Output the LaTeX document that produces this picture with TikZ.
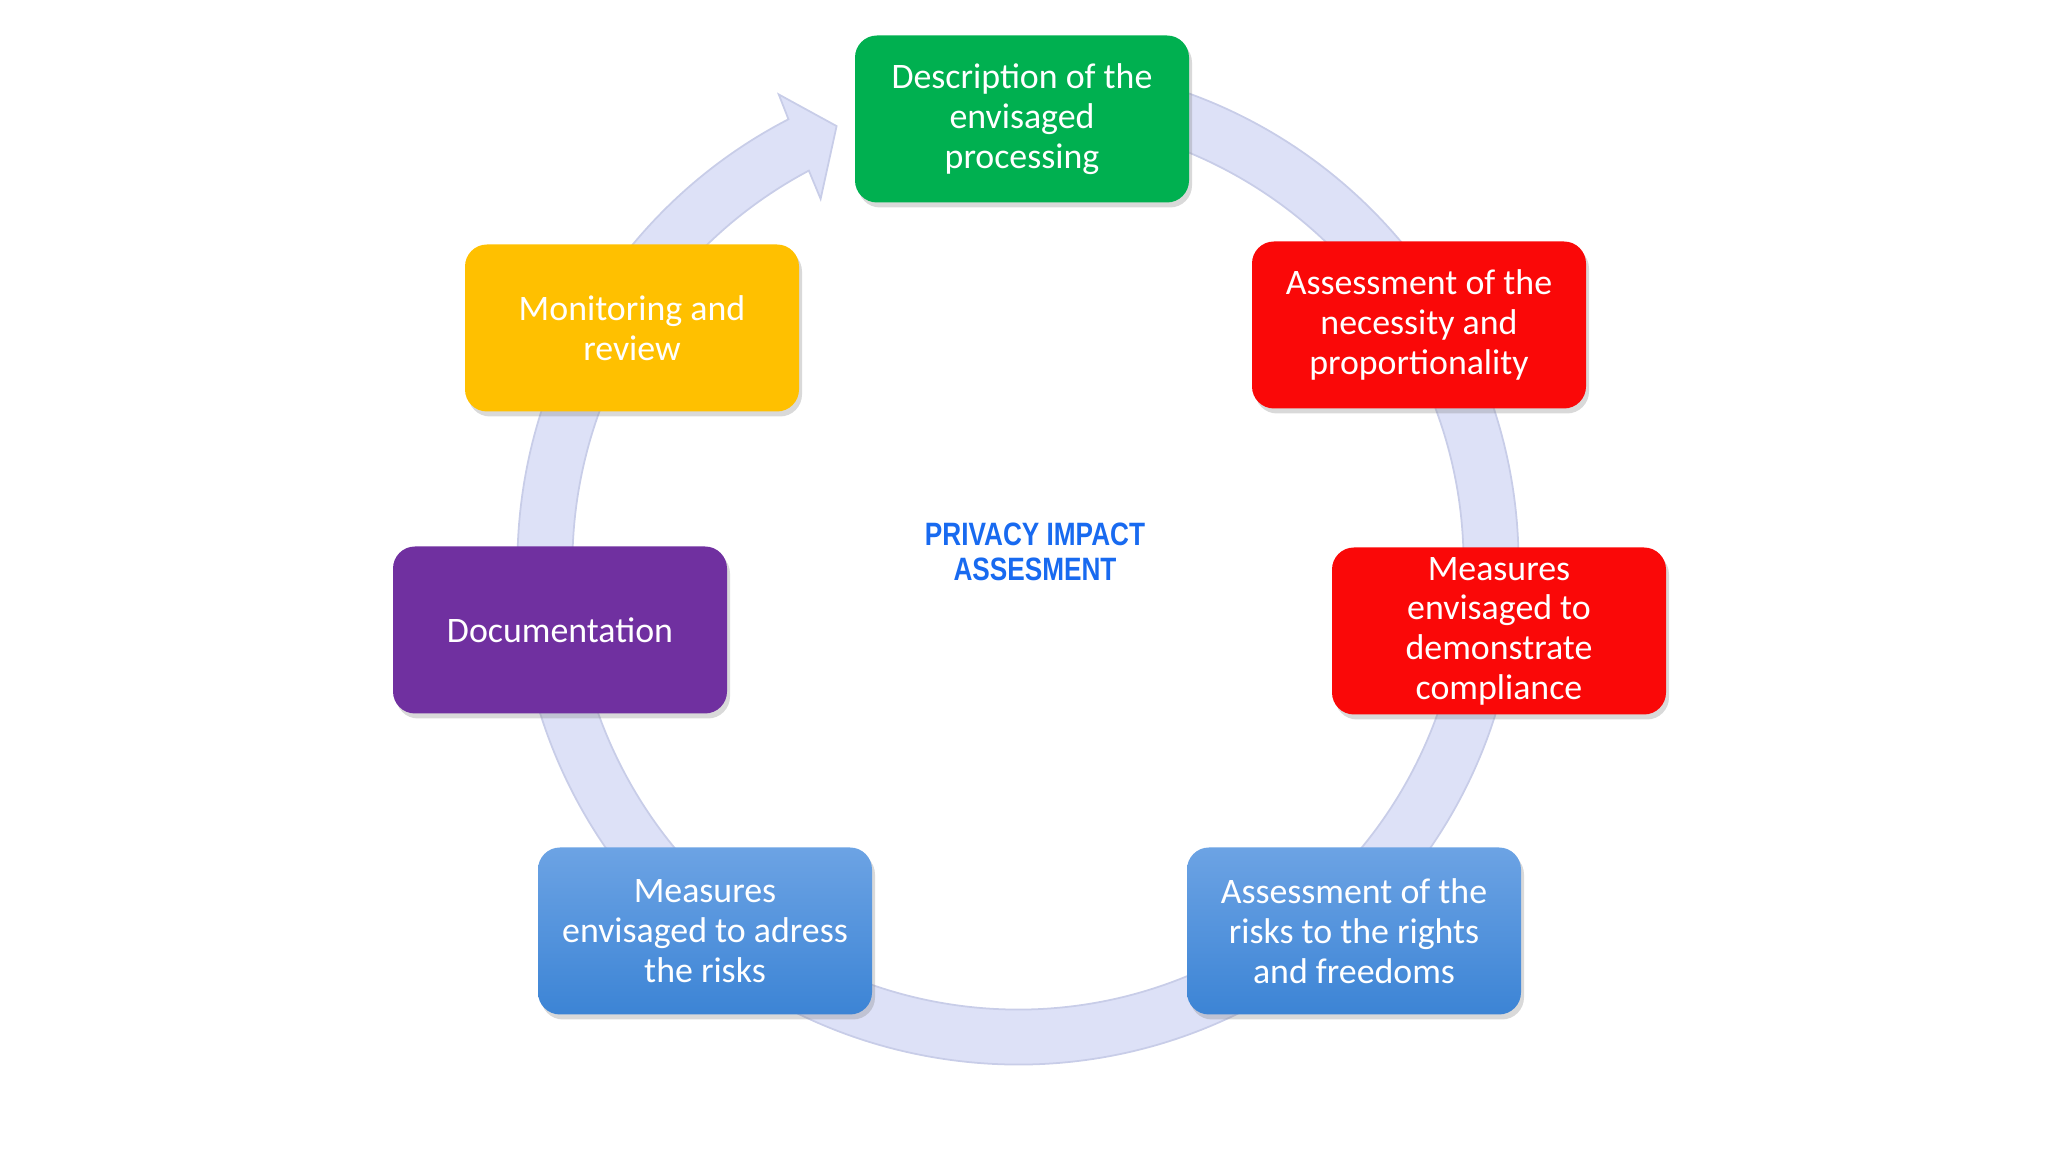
\documentclass[tikz,border=0pt]{standalone}
\usepackage{fontspec}
\setmainfont{Carlito}
\newfontfamily\titlefont[FakeStretch=0.81]{Liberation Sans Bold}
\usetikzlibrary{shadows}
\definecolor{stagegreen}{RGB}{0,176,80}
\definecolor{stagered}{RGB}{250,8,8}
\definecolor{stageyellow}{RGB}{255,192,0}
\definecolor{stagepurple}{RGB}{112,48,160}
\definecolor{stagebluetop}{RGB}{108,163,228}
\definecolor{stagebluebot}{RGB}{60,132,213}
\definecolor{ringfill}{RGB}{221,225,247}
\definecolor{ringedge}{RGB}{200,205,232}
\definecolor{titleblue}{RGB}{24,106,240}

\tikzset{
  stage/.style={rectangle, rounded corners=0.22cm, minimum width=3.34cm,
    minimum height=1.67cm, inner ysep=0.5pt, align=center, text=white,
    font=\fontsize{10.2}{11.3}\selectfont,
    drop shadow={shadow xshift=0.03cm, shadow yshift=-0.05cm, opacity=0.3}},
  bluestage/.style={stage, top color=stagebluetop, bottom color=stagebluebot},
}

\begin{document}
\begin{tikzpicture}
\useasboundingbox (0,0) rectangle (20.48,11.52);
% cycle ring with its arrow head
\begin{scope}[shift={(10.18,5.88)}]
\filldraw[ringfill, draw=ringedge, line width=0.5pt] (80:5.005) arc[start angle=80, end angle=-242.7, radius=5.005]
  -- (117.0:5.27) -- (112.5:4.74) -- (118.4:4.15) -- (118.0:4.455)
  arc[start angle=-242.0, end angle=80, radius=4.455] -- cycle;
\end{scope}
% stages
\node[stage, fill=stagegreen] (desc) at (10.22,10.33) {Description of the\\envisaged\\processing};
\node[stage, fill=stagered] (necess) at (14.19,8.27) {Assessment of the\\necessity and\\proportionality};
\node[stage, fill=stagered] (comply) at (14.99,5.21) {Measures\\envisaged to\\demonstrate\\compliance};
\node[bluestage] (risks) at (13.54,2.21) {Assessment of the\\risks to the rights\\and freedoms};
\node[bluestage] (adress) at (7.05,2.21) {Measures\\envisaged to adress\\the risks};
\node[stage, fill=stagepurple] (docu) at (5.60,5.22) {Documentation};
\node[stage, fill=stageyellow] (monitor) at (6.32,8.24) {Monitoring and\\review};
% centre title
\node[align=center, text=titleblue, font=\titlefont\fontsize{9.2}{9.8}\selectfont] (title) at (10.35,6.00) {PRIVACY IMPACT\\ASSESMENT};
\end{tikzpicture}
\end{document}
